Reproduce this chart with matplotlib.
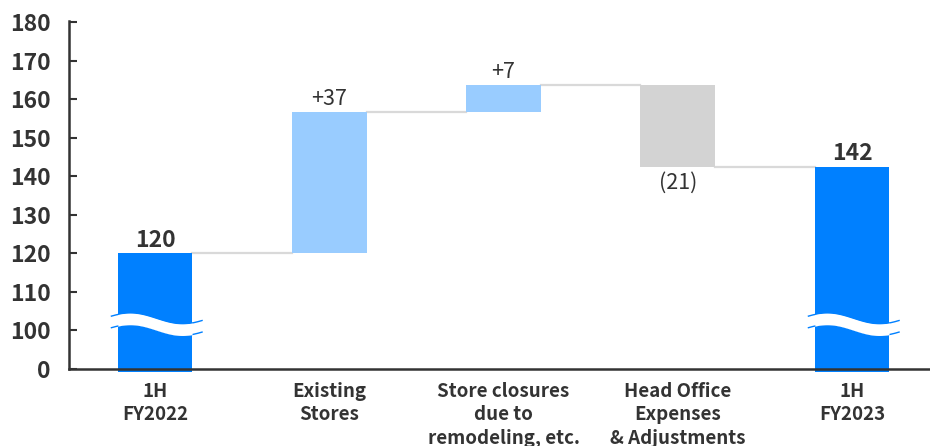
import numpy as np
import matplotlib.pyplot as plt

plt.rcParams['font.family'] = ['Noto Sans CJK JP', 'DejaVu Sans']

# data
categories = ['1H\nFY2022', 'Existing\nStores', 'Store closures\ndue to\nremodeling, etc.',
              'Head Office\nExpenses\n& Adjustments', '1H\nFY2023']
start_value = 120.0
changes = [36.7, 7.0, -21.2]
end_value = 142.5
value_labels = ['120', '+37', '+7', '(21)', '142']

# axis is broken: "0" is drawn at the 90 position
ytick_pos = [90, 100, 110, 120, 130, 140, 150, 160, 170, 180]
ytick_lab = ['0', '100', '110', '120', '130', '140', '150', '160', '170', '180']

c_total = '#0080FF'
c_up = '#99CCFF'
c_down = '#D3D3D3'
c_text = '#333333'
floor = 89.2

fig = plt.figure(figsize=(9.3, 4.46), dpi=100)
ax = fig.add_axes([0.0742, 0.1639, 0.9258, 0.7955])

x = np.arange(len(categories))
w = 0.43

# running level after each step
levels = [start_value]
for ch in changes:
    levels.append(levels[-1] + ch)

bottoms = [floor]
heights = [start_value - floor]
colors = [c_total]
for i, ch in enumerate(changes):
    bottoms.append(min(levels[i], levels[i + 1]))
    heights.append(abs(ch))
    colors.append(c_up if ch > 0 else c_down)
bottoms.append(floor)
heights.append(end_value - floor)
colors.append(c_total)

ax.bar(x, heights, bottom=bottoms, width=w, color=colors, zorder=2)

# connectors between bars
for i in range(len(x) - 1):
    lvl = levels[i]
    ax.plot([x[i] + w / 2, x[i + 1] - w / 2], [lvl, lvl], color='#d9d9d9', lw=1.6, zorder=1)

# wave break on the two total bars
for xi in [x[0], x[-1]]:
    xs = np.linspace(xi - 0.25, xi + 0.27, 200)
    mid = 101.6 + 1.4 * np.cos(np.pi * (xs - (xi - 0.144)) / 0.3)
    ax.fill_between(xs, mid - 1.5, mid + 1.5, color='white', zorder=3, lw=0)
    ax.plot(xs, mid + 1.5, color=c_total, lw=1.0, zorder=3)
    ax.plot(xs, mid - 1.5, color=c_total, lw=1.0, zorder=3)
    inside = (xs > xi - w / 2) & (xs < xi + w / 2)
    ax.fill_between(xs[inside], (mid - 1.5)[inside], (mid + 1.5)[inside],
                    color='white', zorder=4, lw=0)

# value labels
tops = [start_value, levels[1], levels[2], levels[3], end_value]
for i, lab in enumerate(value_labels):
    bold = i in (0, 4)
    if i == 3:
        ax.annotate(lab, (x[i], levels[3]), xytext=(0, -4), textcoords='offset points',
                    ha='center', va='top', fontsize=15.5, color=c_text)
    else:
        ax.annotate(lab, (x[i], tops[i]), xytext=(0, 1), textcoords='offset points',
                    ha='center', va='bottom', fontsize=16.5 if bold else 15.5,
                    fontweight='bold' if bold else 'normal', color=c_text)

# category labels under the axis
for xi, cat in zip(x, categories):
    ax.annotate(cat, (xi, 90), xytext=(0, -9), textcoords='offset points',
                ha='center', va='top', fontsize=13.5, fontweight='bold',
                color=c_text, linespacing=1.3, annotation_clip=False)

ax.set_xlim(-0.4935, 4.4476)
ax.set_ylim(89, 181)
ax.set_yticks(ytick_pos)
ax.set_yticklabels(ytick_lab, fontsize=16.5, fontweight='bold', color=c_text)
ax.set_xticks([])
ax.tick_params(axis='y', direction='in', length=6, width=1.5, color=c_text, pad=13)

for s in ['top', 'right']:
    ax.spines[s].set_visible(False)
ax.spines['bottom'].set_position(('data', 90))
ax.spines['left'].set_bounds(90, 180.3)
for s in ['left', 'bottom']:
    ax.spines[s].set_color(c_text)
    ax.spines[s].set_linewidth(1.8)
    ax.spines[s].set_zorder(5)

fig.savefig('out.png', dpi=100)
